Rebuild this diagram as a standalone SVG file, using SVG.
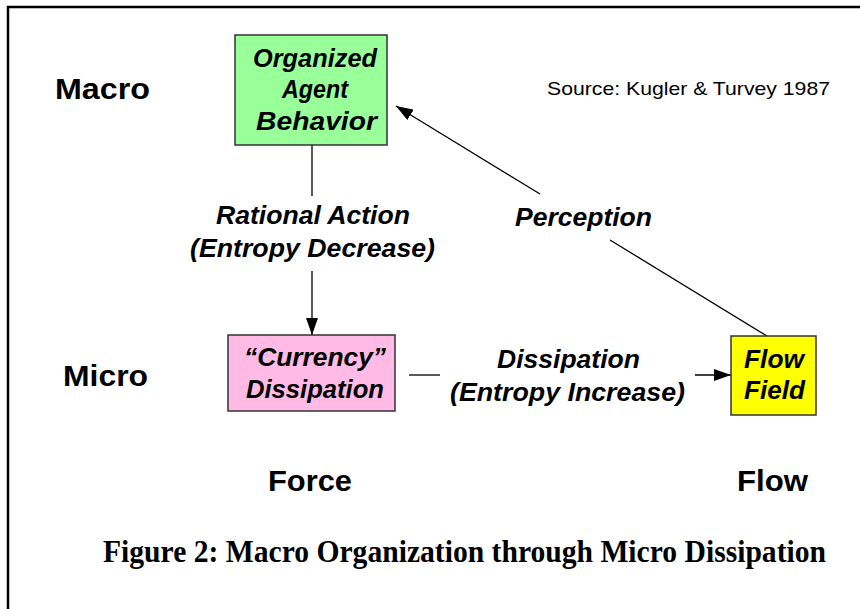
<svg xmlns="http://www.w3.org/2000/svg" width="860" height="609" viewBox="0 0 860 609">
<defs>
<marker id="ah" markerUnits="userSpaceOnUse" markerWidth="18" markerHeight="12" refX="17" refY="6" orient="auto">
<path d="M0,0 L17,6 L0,12 z" fill="#000"/>
</marker>
<style>
.lbl{font-family:"Liberation Sans",Arial,sans-serif;font-weight:bold;font-size:30px;fill:#000}
.it{font-family:"Liberation Sans",Arial,sans-serif;font-weight:bold;font-style:italic;font-size:25px;fill:#000}
.bx{font-family:"Liberation Sans",Arial,sans-serif;font-weight:bold;font-style:italic;font-size:25px;fill:#000}
.src{font-family:"Liberation Sans",Arial,sans-serif;font-size:19px;fill:#000}
.cap{font-family:"Liberation Serif","Times New Roman",serif;font-weight:bold;font-size:31px;fill:#000}
.box{stroke:#333;stroke-width:1.5}
.con{stroke:#000;stroke-width:1.3;fill:none}
</style>
</defs>
<rect x="8" y="7" width="870" height="620" fill="#fff" stroke="#000" stroke-width="2.5"/>
<text class="lbl" x="55" y="99" textLength="95" lengthAdjust="spacingAndGlyphs">Macro</text>
<text class="lbl" x="63" y="386" textLength="85" lengthAdjust="spacingAndGlyphs">Micro</text>
<text class="lbl" x="268" y="491" textLength="84" lengthAdjust="spacingAndGlyphs">Force</text>
<text class="lbl" x="737" y="491" textLength="71" lengthAdjust="spacingAndGlyphs">Flow</text>
<text class="src" x="547" y="95" textLength="283" lengthAdjust="spacingAndGlyphs">Source: Kugler &amp; Turvey 1987</text>
<g id="connectors">
<line class="con" x1="312" y1="145" x2="312" y2="196"/>
<line class="con" x1="312" y1="271" x2="312" y2="335" marker-end="url(#ah)"/>
<line class="con" x1="409" y1="375" x2="440" y2="375"/>
<line class="con" x1="695" y1="375" x2="731" y2="375" marker-end="url(#ah)"/>
<line class="con" x1="767" y1="336" x2="610" y2="240"/>
<line class="con" x1="540" y1="194" x2="396" y2="106" marker-end="url(#ah)"/>
<text class="it" x="216" y="224" textLength="194" lengthAdjust="spacingAndGlyphs">Rational Action</text>
<text class="it" x="190" y="257" textLength="245" lengthAdjust="spacingAndGlyphs">(Entropy Decrease)</text>
<text class="it" x="515" y="226" textLength="137" lengthAdjust="spacingAndGlyphs">Perception</text>
<text class="it" x="497" y="368" textLength="143" lengthAdjust="spacingAndGlyphs">Dissipation</text>
<text class="it" x="450" y="401" textLength="235" lengthAdjust="spacingAndGlyphs">(Entropy Increase)</text>
</g>
<g id="organized">
<rect class="box" x="235" y="35" width="152" height="110" fill="#99FF99"/>
<text class="bx" x="253" y="67" textLength="124" lengthAdjust="spacingAndGlyphs">Organized</text>
<text class="bx" x="282" y="98" textLength="66" lengthAdjust="spacingAndGlyphs">Agent</text>
<text class="bx" x="256" y="130" textLength="121" lengthAdjust="spacingAndGlyphs">Behavior</text>
</g>
<g id="currency">
<rect class="box" x="228" y="335" width="167" height="76" fill="#FFBBE5"/>
<text class="bx" x="244" y="366" textLength="142" lengthAdjust="spacingAndGlyphs">“Currency”</text>
<text class="bx" x="246" y="398" textLength="138" lengthAdjust="spacingAndGlyphs">Dissipation</text>
</g>
<g id="flowfield">
<rect class="box" x="731" y="336" width="85" height="79" fill="#FFFF00"/>
<text class="bx" x="744" y="368" textLength="60" lengthAdjust="spacingAndGlyphs">Flow</text>
<text class="bx" x="744" y="399" textLength="61" lengthAdjust="spacingAndGlyphs">Field</text>
</g>
<text class="cap" x="103" y="562" textLength="723" lengthAdjust="spacingAndGlyphs">Figure 2: Macro Organization through Micro Dissipation</text>
</svg>
